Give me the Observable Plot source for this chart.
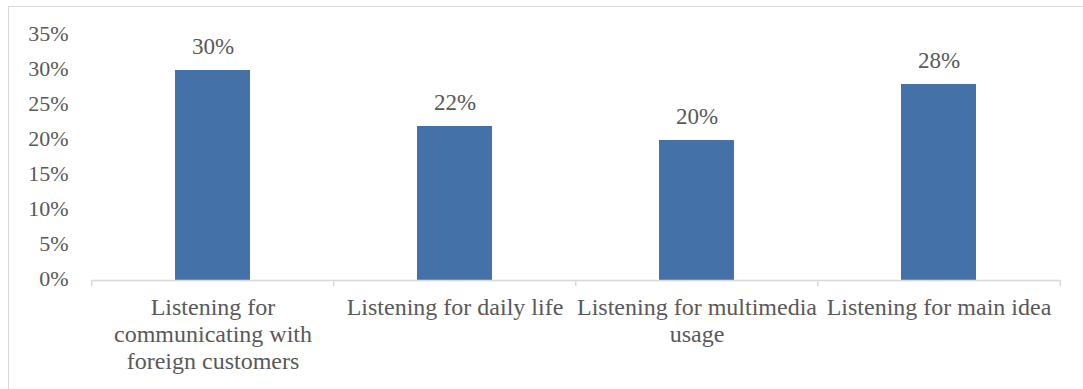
<!DOCTYPE html>
<html>
<head>
<meta charset="utf-8">
<script src="https://cdn.jsdelivr.net/npm/d3@7"></script>
<script src="https://cdn.jsdelivr.net/npm/@observablehq/plot@0.6"></script>
<style>
  html, body { margin: 0; padding: 0; background: #fff; }
  #wrap { position: relative; width: 1083px; height: 389px; overflow: hidden; }
  #frame { position: absolute; left: 8px; top: 6px; width: 1200px; height: 500px;
           border-top: 1.5px solid #d9d9d9; border-left: 1.5px solid #d9d9d9; }
  #chart { position: absolute; left: 0; top: 0; }
</style>
</head>
<body>
<div id="wrap"><div id="frame"></div><div id="chart"></div></div>
<script>
const categories = [
  "Listening for communicating with foreign customers",
  "Listening for daily life",
  "Listening for multimedia usage",
  "Listening for main idea"
];
const tickLabels = [
  "Listening for\ncommunicating with\nforeign customers",
  "Listening for daily life",
  "Listening for multimedia\nusage",
  "Listening for main idea"
];
const values = [0.30, 0.22, 0.20, 0.28];
const yTicks = [0, 0.05, 0.10, 0.15, 0.20, 0.25, 0.30, 0.35];

const data = categories.map((c, i) => ({category: c, value: values[i]}));
const W = 1083, ML = 91, MR = 22;
const step = (W - ML - MR) / categories.length;
const fmt = d3.format(".0%");
const grey = "#595959";
const font = "Liberation Serif";

const plot = Plot.plot({
  width: W,
  height: 389,
  marginLeft: ML,
  marginRight: MR,
  marginTop: 35,
  marginBottom: 109,
  style: {fontFamily: font, color: grey, background: "transparent"},
  x: {domain: categories, paddingInner: 0.69, paddingOuter: 0.345, label: null},
  y: {domain: [0, 0.35], label: null},
  marks: [
    Plot.barY(data, {x: "category", y: "value", fill: "#4472a8"}),
    Plot.ruleY([0], {stroke: "#d9d9d9", strokeWidth: 1.5}),
    Plot.ruleX(categories, {x: d => d, y1: 0, y2: 0, insetBottom: -6, dx: -step / 2, stroke: "#d9d9d9", strokeWidth: 1.5}),
    Plot.ruleX(categories.slice(-1), {x: d => d, y1: 0, y2: 0, insetBottom: -6, dx: step / 2, stroke: "#d9d9d9", strokeWidth: 1.5}),
    Plot.text(data, {x: "category", y: "value", text: d => fmt(d.value), dy: -24, fontSize: 23, fontFamily: font, fill: grey}),
    Plot.axisY({ticks: yTicks, tickFormat: fmt, tickSize: 0, tickPadding: 23, dy: -2, fontSize: 22, fontFamily: font, fill: grey}),
    Plot.axisX({tickSize: 0, tickPadding: 15, fontSize: 24, fontFamily: font, fill: grey, lineHeight: 1.125,
      tickFormat: d => tickLabels[categories.indexOf(d)], lineWidth: Infinity})
  ]
});
document.getElementById("chart").appendChild(plot);
</script>
</body>
</html>
